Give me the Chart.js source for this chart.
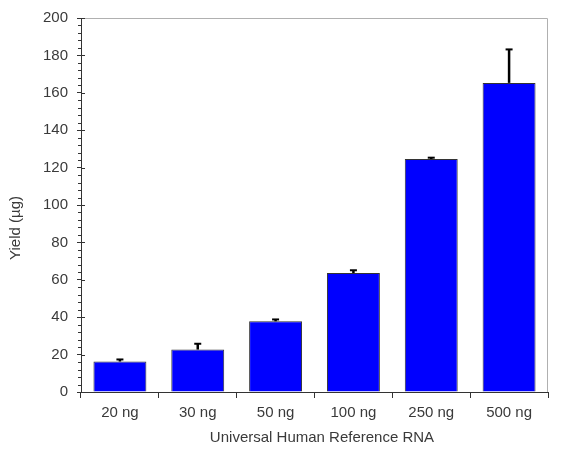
<!DOCTYPE html>
<html>
<head>
<meta charset="utf-8">
<script src="https://cdn.jsdelivr.net/npm/chart.js@4/dist/chart.umd.min.js"></script>
<style>
  html, body { margin: 0; padding: 0; background: #fff; }
  #wrap { width: 561px; height: 451px; }
</style>
</head>
<body>
<div id="wrap"><canvas id="chart"></canvas></div>
<script>
// data
const categories = ["20 ng", "30 ng", "50 ng", "100 ng", "250 ng", "500 ng"];
const yieldValues = [16.3, 22.7, 37.8, 63.6, 124.6, 165.3];
const yieldErrors = [1.1, 3.1, 1.0, 1.5, 0.7, 17.9];
const yTicks = [0, 20, 40, 60, 80, 100, 120, 140, 160, 180, 200];
const minorStep = 4;

const xTitle = "Universal Human Reference RNA";
const yTitle = "Yield (µg)";

const textColor = "#3a3a3a";
const axisColor = "#333333";
const fontFamily = "'Liberation Sans', Arial, sans-serif";

// extra drawing: frame, minor ticks, error bars, axis titles
const extras = {
  id: "extras",
  afterDatasetsDraw(chart) {
    const ctx = chart.ctx;
    const area = chart.chartArea;
    const ys = chart.scales.y;
    const meta = chart.getDatasetMeta(0);

    ctx.save();
    // light grey frame top and right
    ctx.strokeStyle = "#b0b0b0";
    ctx.lineWidth = 1;
    ctx.beginPath();
    ctx.moveTo(area.left, area.top + 0.5);
    ctx.lineTo(area.right - 0.5, area.top + 0.5);
    ctx.lineTo(area.right - 0.5, area.bottom);
    ctx.stroke();

    // minor ticks (outside) and inner half of major ticks
    ctx.strokeStyle = axisColor;
    ctx.beginPath();
    for (let v = 0; v <= 200; v += minorStep) {
      const py = Math.round(ys.getPixelForValue(v)) + 0.5;
      if (v % 20 === 0) {
        ctx.moveTo(area.left, py);
        ctx.lineTo(area.left + 4, py);
      } else {
        ctx.moveTo(area.left - 3, py);
        ctx.lineTo(area.left, py);
      }
    }
    ctx.stroke();

    // upper error bars
    ctx.strokeStyle = "#000";
    meta.data.forEach((bar, i) => {
      const top = ys.getPixelForValue(yieldValues[i]);
      const end = ys.getPixelForValue(yieldValues[i] + yieldErrors[i]);
      ctx.lineWidth = 2.5;
      ctx.beginPath();
      ctx.moveTo(bar.x, top);
      ctx.lineTo(bar.x, end);
      ctx.stroke();
      ctx.lineWidth = 2;
      ctx.beginPath();
      ctx.moveTo(bar.x - 3.5, end);
      ctx.lineTo(bar.x + 3.5, end);
      ctx.stroke();
    });

    // axis titles
    ctx.fillStyle = textColor;
    ctx.font = "15px " + fontFamily;
    ctx.textAlign = "center";
    ctx.textBaseline = "middle";
    ctx.fillText(xTitle, 322, 438);
    ctx.translate(16, 228);
    ctx.rotate(-Math.PI / 2);
    ctx.fillText(yTitle, 0, 0);
    ctx.restore();
  }
};

new Chart(document.getElementById("chart"), {
  type: "bar",
  data: {
    labels: categories,
    datasets: [{
      data: yieldValues,
      backgroundColor: "#0000ff",
      borderColor: "#333333",
      borderWidth: 1,
      barPercentage: 0.68,
      categoryPercentage: 1
    }]
  },
  options: {
    responsive: true,
    maintainAspectRatio: false,
    animation: false,
    layout: { padding: { top: 12, right: 13, left: 0, bottom: 0 } },
    plugins: {
      legend: { display: false },
      tooltip: { enabled: false }
    },
    scales: {
      x: {
        grid: {
          offset: true,
          drawOnChartArea: false,
          tickLength: 6,
          color: axisColor
        },
        border: { color: axisColor, width: 1 },
        ticks: {
          color: textColor,
          font: { family: fontFamily, size: 15 },
          padding: 6,
          maxRotation: 0
        },
        afterFit(scale) { scale.height = 59; }
      },
      y: {
        min: 0,
        max: 200,
        afterBuildTicks(scale) { scale.ticks = yTicks.map(v => ({ value: v })); },
        grid: {
          drawOnChartArea: false,
          tickLength: 4,
          color: axisColor
        },
        border: { color: axisColor, width: 1 },
        ticks: {
          color: textColor,
          font: { family: fontFamily, size: 15 },
          padding: 9
        },
        afterFit(scale) { scale.width = 81; }
      }
    }
  },
  plugins: [extras]
});
</script>
</body>
</html>
